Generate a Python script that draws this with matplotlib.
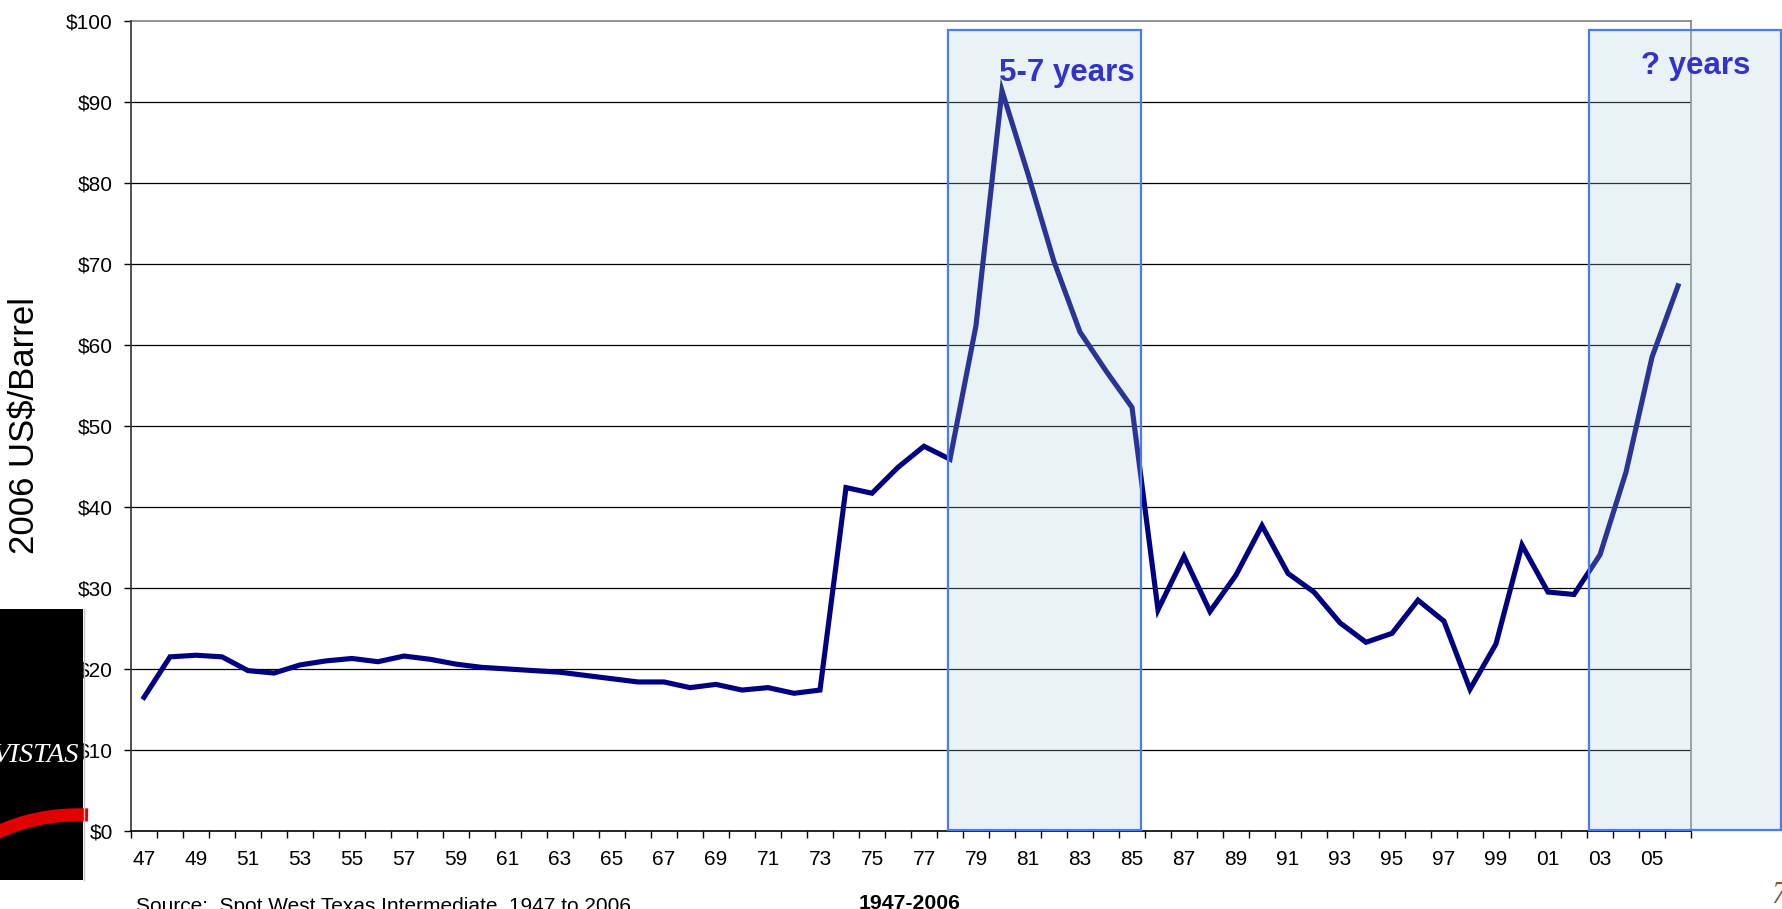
import matplotlib
matplotlib.use("Agg")
import matplotlib.pyplot as plt
from matplotlib.patches import Rectangle, PathPatch
from matplotlib.path import Path
import numpy as np

plt.rcParams['font.family'] = ['Liberation Sans', 'DejaVu Sans']

years = list(range(1947, 2007))
prices = [16.5, 21.5, 21.7, 21.5, 19.8, 19.5, 20.5, 21.0, 21.3, 20.9,
          21.6, 21.2, 20.6, 20.2, 20.0, 19.8, 19.6, 19.2, 18.8, 18.4,
          18.4, 17.7, 18.1, 17.4, 17.7, 17.0, 17.4, 42.4, 41.7, 44.9,
          47.5, 45.9, 62.4, 91.4, 81.1, 70.3, 61.6, 56.8, 52.3, 27.3,
          33.9, 27.1, 31.6, 37.7, 31.8, 29.5, 25.7, 23.3, 24.4, 28.5,
          25.9, 17.5, 23.1, 35.3, 29.5, 29.2, 34.1, 44.3, 58.5, 67.3]
tick_labels = ['47', '49', '51', '53', '55', '57', '59', '61', '63', '65',
               '67', '69', '71', '73', '75', '77', '79', '81', '83', '85',
               '87', '89', '91', '93', '95', '97', '99', '01', '03', '05']
y_ticks = [0, 10, 20, 30, 40, 50, 60, 70, 80, 90, 100]
y_tick_labels = ['$0', '$10', '$20', '$30', '$40', '$50', '$60', '$70', '$80', '$90', '$100']
box_labels = ['5-7 years', '? years']

W, H = 1782, 909
fig = plt.figure(figsize=(W / 100, H / 100), dpi=100)
fig.patch.set_facecolor('white')

ax = fig.add_axes([131 / W, 1 - 831 / H, (1691 - 131) / W, (831 - 21) / H])
x = np.arange(len(years))
ax.set_xlim(-0.5, len(years) - 0.5)
ax.set_ylim(0, 100)

# gridlines
for v in y_ticks[1:-1]:
    ax.axhline(v, color='black', lw=0.9, zorder=1)

ax.plot(x, prices, color='#000080', lw=3.7, zorder=3, solid_joinstyle='miter')

# shaded boxes
boxes = [(30.92, 38.35), (55.58, 62.96)]
for (x0, x1) in boxes:
    r = Rectangle((x0, 0.12), x1 - x0, 98.8, facecolor='#ABD3DB', alpha=0.25,
                  edgecolor='none', zorder=4, clip_on=False)
    ax.add_patch(r)
    r2 = Rectangle((x0, 0.12), x1 - x0, 98.8, facecolor='none',
                   edgecolor='#4A7BF7', lw=1.6, zorder=5, clip_on=False)
    ax.add_patch(r2)

ax.text(32.9, 92.6, box_labels[0], color='#3333CC', fontsize=22.5,
        fontweight='bold', ha='left', va='baseline', zorder=6)
ax.text(57.58, 93.5, box_labels[1], color='#3333CC', fontsize=22.5,
        fontweight='bold', ha='left', va='baseline', zorder=6, clip_on=False)

# spines
ax.spines['top'].set_color('#808080')
ax.spines['right'].set_color('#808080')
ax.spines['left'].set_color('#333333')
ax.spines['bottom'].set_color('black')
for s in ax.spines.values():
    s.set_linewidth(1.2)
ax.spines['top'].set_zorder(2)
ax.spines['right'].set_zorder(2)

ax.set_yticks(y_ticks)
ax.set_yticklabels(y_tick_labels, fontsize=15)
ax.tick_params(axis='y', direction='out', length=5, width=1, pad=8, color='black')

ax.set_xticks(np.arange(-0.5, len(years)), minor=False)
ax.set_xticklabels([])
ax.set_xticks(x[::2], minor=True)
ax.set_xticklabels(tick_labels, minor=True, fontsize=15)
ax.tick_params(axis='x', which='major', direction='out', length=5, width=1, color='black')
ax.tick_params(axis='x', which='minor', length=0, pad=14)

fig.text(25 / W, 1 - 426 / H, '2006 US$/Barrel', rotation=90, fontsize=25,
         ha='center', va='center')
fig.text(910 / W, 1 - 894 / H, '1947-2006', fontsize=15.3, fontweight='bold',
         ha='center', va='top')
fig.text(136 / W, 1 - 897 / H, 'Source:  Spot West Texas Intermediate, 1947 to 2006',
         fontsize=15, ha='left', va='top')
fig.text(1771 / W, 1 - 903 / H, '7', fontsize=22, color='#8B5A2B', style='italic',
         family='Liberation Serif', ha='left', va='baseline')

# logo
lax = fig.add_axes([0, 1 - 890 / H, 92 / W, (890 - 600) / H], zorder=10)
lax.set_xlim(0, 92)
lax.set_ylim(890, 600)
lax.axis('off')
lax.patch.set_alpha(0)
lax.add_patch(Rectangle((0, 609), 83, 271, facecolor='black', edgecolor='none'))
lax.plot([83.5, 83.5], [609, 880], color='#C8C8C8', lw=1)
verts = [(-8, 835), (35, 813), (88, 815)]
path = Path(verts, [Path.MOVETO, Path.CURVE3, Path.CURVE3])
lax.add_patch(PathPatch(path, facecolor='none', edgecolor='#E00000', lw=9.5,
                        capstyle='butt'))
lax.text(79, 762, 'VISTAS', color='white', fontsize=20.5, style='italic',
         family='Liberation Serif', ha='right', va='baseline')

fig.savefig('out.png', dpi=100)
